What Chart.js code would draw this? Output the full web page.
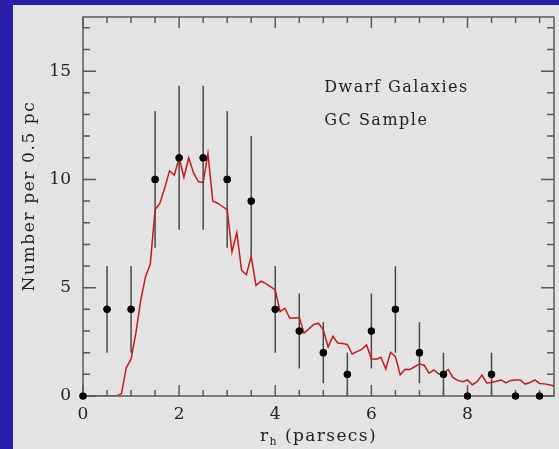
<!DOCTYPE html>
<html>
<head>
<meta charset="utf-8">
<script src="https://cdn.jsdelivr.net/npm/chart.js@4/dist/chart.umd.min.js"></script>
<style>
  html, body { margin: 0; padding: 0; background: #2a1fa8; }
  canvas { display: block; }
</style>
</head>
<body>
<canvas id="c" width="559" height="449"></canvas>
<script>
// Half-light radius bins (parsecs) and observed counts per 0.5 pc bin
const binX = [0, 0.5, 1, 1.5, 2, 2.5, 3, 3.5, 4, 4.5, 5, 5.5, 6, 6.5, 7, 7.5, 8, 8.5, 9, 9.5];
const counts = [0, 4, 4, 10, 11, 11, 10, 9, 4, 3, 2, 1, 3, 4, 2, 1, 0, 1, 0, 0];
const errLow = [0, 2, 2, 3.16, 3.32, 3.32, 3.16, 2.55, 2, 1.73, 1.41, 1, 1.73, 2, 1.41, 1, 0, 1, 0, 0];
const errHigh = [0, 2, 2, 3.16, 3.32, 3.32, 3.16, 3, 2, 1.73, 1.41, 1, 1.73, 2, 1.41, 1, 0, 1, 0, 0];

// GC sample distribution (red curve)
const curveX = [0.0, 0.1, 0.2, 0.3, 0.4, 0.5, 0.6, 0.7, 0.8, 0.9,
  1.0, 1.1, 1.2, 1.3, 1.4, 1.5, 1.6, 1.7, 1.8, 1.9,
  2.0, 2.1, 2.2, 2.3, 2.4, 2.5, 2.6, 2.7, 2.8, 2.9,
  3.0, 3.1, 3.2, 3.3, 3.4, 3.5, 3.6, 3.7, 3.8, 3.9,
  4.0, 4.1, 4.2, 4.3, 4.4, 4.5, 4.6, 4.7, 4.8, 4.9,
  5.0, 5.1, 5.2, 5.3, 5.4, 5.5, 5.6, 5.7, 5.8, 5.9,
  6.0, 6.1, 6.2, 6.3, 6.4, 6.5, 6.6, 6.7, 6.8, 6.9,
  7.0, 7.1, 7.2, 7.3, 7.4, 7.5, 7.6, 7.7, 7.8, 7.9,
  8.0, 8.1, 8.2, 8.3, 8.4, 8.5, 8.6, 8.7, 8.8, 8.9,
  9.0, 9.1, 9.2, 9.3, 9.4, 9.5, 9.6, 9.7, 9.8];
const curveY = [0, 0, 0, 0, 0, 0, 0, 0, 0.1, 1.3,
  1.7, 2.9, 4.4, 5.5, 6.1, 8.6, 8.9, 9.6, 10.4, 10.2,
  11.0, 10.1, 11.0, 10.3, 9.9, 9.85, 11.2, 9.0, 8.9, 8.75,
  8.6, 6.65, 7.55, 5.8, 5.6, 6.45, 5.1, 5.3, 5.2, 5.05,
  4.9, 3.9, 4.05, 3.6, 3.6, 3.62, 2.9, 3.1, 3.3, 3.36,
  3.06, 2.26, 2.76, 2.45, 2.42, 2.38, 1.94, 2.05, 2.15, 2.36,
  1.72, 1.7, 1.78, 1.25, 2.02, 1.82, 0.97, 1.23, 1.22, 1.35,
  1.48, 1.42, 1.05, 1.2, 1.02, 1.05, 1.22, 0.85, 0.72, 0.66,
  0.74, 0.52, 0.66, 0.97, 0.6, 0.62, 0.68, 0.74, 0.6, 0.72,
  0.74, 0.74, 0.55, 0.62, 0.74, 0.58, 0.56, 0.52, 0.46];

// Tick positions and labels
const xTickValues = [0, 0.5, 1, 1.5, 2, 2.5, 3, 3.5, 4, 4.5, 5, 5.5, 6, 6.5, 7, 7.5, 8, 8.5, 9, 9.5];
const xLabelValues = [0, 2, 4, 6, 8];
const yTickValues = [0, 1, 2, 3, 4, 5, 6, 7, 8, 9, 10, 11, 12, 13, 14, 15, 16, 17];
const yLabelValues = [0, 5, 10, 15];

const SERIF = '"DejaVu Serif", "Liberation Serif", serif';
const INK = '#222';
const AXIS = '#5a5a5a';

const framePlugin = {
  id: 'frame',
  beforeDraw(chart) {
    const ctx = chart.ctx;
    ctx.save();
    ctx.fillStyle = '#2a1fa8';
    ctx.fillRect(0, 0, chart.width, chart.height);
    ctx.fillStyle = '#e4e4e4';
    ctx.fillRect(13, 5, chart.width - 13, chart.height - 5);
    ctx.restore();
  },
  beforeDatasetsDraw(chart) {
    // error bars sit beneath the curve and the points
    const ctx = chart.ctx, xs = chart.scales.x, ys = chart.scales.y;
    ctx.save();
    ctx.strokeStyle = '#4a4a4a';
    ctx.lineWidth = 1.5;
    binX.forEach((bx, i) => {
      if (errLow[i] === 0 && errHigh[i] === 0) return;
      const px = xs.getPixelForValue(bx);
      ctx.beginPath();
      ctx.moveTo(px, ys.getPixelForValue(counts[i] - errLow[i]));
      ctx.lineTo(px, ys.getPixelForValue(counts[i] + errHigh[i]));
      ctx.stroke();
    });
    ctx.restore();
  },
  afterDraw(chart) {
    const ctx = chart.ctx, a = chart.chartArea, xs = chart.scales.x, ys = chart.scales.y;
    ctx.save();
    ctx.strokeStyle = AXIS;
    ctx.lineWidth = 1.5;
    ctx.strokeRect(a.left, a.top, a.right - a.left, a.bottom - a.top);
    ctx.beginPath();
    xs.ticks.forEach(t => {
      const px = xs.getPixelForValue(t.value);
      const len = (t.value % 2 === 0) ? 11 : 6;
      ctx.moveTo(px, a.bottom); ctx.lineTo(px, a.bottom - len);
      ctx.moveTo(px, a.top); ctx.lineTo(px, a.top + len);
    });
    ys.ticks.forEach(t => {
      const py = ys.getPixelForValue(t.value);
      const len = (t.value % 5 === 0) ? 13 : 7;
      ctx.moveTo(a.left, py); ctx.lineTo(a.left + len, py);
      ctx.moveTo(a.right, py); ctx.lineTo(a.right - len, py);
    });
    ctx.stroke();

    // redraw the points on top of the frame
    const meta = chart.getDatasetMeta(0);
    ctx.fillStyle = '#000';
    meta.data.forEach(el => {
      ctx.beginPath();
      ctx.arc(el.x, el.y, 3.6, 0, Math.PI * 2);
      ctx.fill();
    });

    ctx.fillStyle = INK;
    ctx.letterSpacing = '1.5px';
    ctx.font = '16px ' + SERIF;
    ctx.textAlign = 'left';
    ctx.textBaseline = 'middle';
    ctx.fillText('Dwarf Galaxies', xs.getPixelForValue(5.02), ys.getPixelForValue(14.25));
    ctx.fillText('GC Sample', xs.getPixelForValue(5.02), ys.getPixelForValue(12.72));

    // x axis title: r_h (parsecs)
    ctx.letterSpacing = '1.4px';
    ctx.textBaseline = 'alphabetic';
    const big = '17px ' + SERIF, small = '11px ' + SERIF;
    ctx.font = big; const wr = ctx.measureText('r').width;
    ctx.font = small; const wh = ctx.measureText('h').width;
    ctx.font = big; const wp = ctx.measureText(' (parsecs)').width;
    let x0 = (a.left + a.right) / 2 - (wr + wh + wp) / 2;
    const base = 441;
    ctx.font = big; ctx.fillText('r', x0, base); x0 += wr;
    ctx.font = small; ctx.fillText('h', x0, base + 4); x0 += wh;
    ctx.font = big; ctx.fillText(' (parsecs)', x0, base);

    // y axis title
    ctx.letterSpacing = '1.6px';
    ctx.translate(30, 196);
    ctx.rotate(-Math.PI / 2);
    ctx.textAlign = 'center';
    ctx.textBaseline = 'middle';
    ctx.font = big;
    ctx.fillText('Number per 0.5 pc', 0, 0);
    ctx.restore();
  }
};

new Chart(document.getElementById('c'), {
  data: {
    datasets: [
      {
        type: 'scatter',
        data: binX.map((x, i) => ({ x: x, y: counts[i] })),
        pointRadius: 3.6,
        pointBackgroundColor: '#000',
        pointBorderWidth: 0,
        clip: false
      },
      {
        type: 'line',
        data: curveX.map((x, i) => ({ x: x, y: curveY[i] })),
        borderColor: '#c41a1a',
        borderWidth: 1.5,
        pointRadius: 0,
        tension: 0,
        fill: false
      }
    ]
  },
  options: {
    responsive: false,
    animation: false,
    events: [],
    layout: { padding: { top: 17, right: 5, left: 0, bottom: 0 } },
    plugins: { legend: { display: false }, tooltip: { enabled: false } },
    scales: {
      x: {
        type: 'linear', min: 0, max: 9.8,
        grid: { display: false, drawTicks: false },
        border: { display: false },
        afterBuildTicks: s => { s.ticks = xTickValues.map(v => ({ value: v })); },
        afterFit: s => { s.height = 53; s.paddingLeft = 0; s.paddingRight = 0; },
        ticks: {
          autoSkip: false, maxRotation: 0, padding: 8,
          color: INK, font: { family: SERIF, size: 17 },
          callback: v => xLabelValues.includes(v) ? String(v) : ''
        }
      },
      y: {
        type: 'linear', min: 0, max: 17.5,
        grid: { display: false, drawTicks: false },
        border: { display: false },
        afterBuildTicks: s => { s.ticks = yTickValues.map(v => ({ value: v })); },
        afterFit: s => { s.width = 83; s.paddingTop = 0; s.paddingBottom = 0; },
        ticks: {
          autoSkip: false, padding: 12,
          color: INK, font: { family: SERIF, size: 17 },
          callback: v => yLabelValues.includes(v) ? String(v) : ''
        }
      }
    }
  },
  plugins: [framePlugin]
});
</script>
</body>
</html>
